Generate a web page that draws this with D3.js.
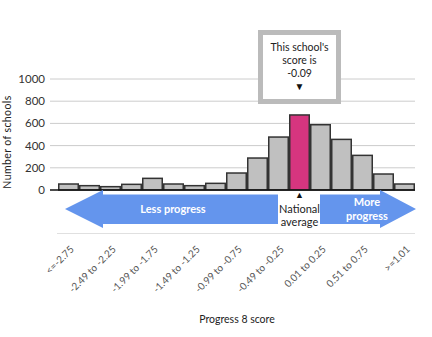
<!DOCTYPE html>
<html><head><meta charset="utf-8">
<script src="https://cdn.jsdelivr.net/npm/d3@7"></script>
<style>body{margin:0;background:#fff}svg{display:block;font-family:Lato,"Open Sans",sans-serif}</style>
</head><body><svg id="c" width="432" height="337"></svg>
<script>
const categories = ["<=-2.75","-2.74 to -2.50","-2.49 to -2.25","-2.24 to -2.00","-1.99 to -1.75","-1.74 to -1.50","-1.49 to -1.25","-1.24 to -1.00","-0.99 to -0.75","-0.74 to -0.50","-0.49 to -0.25","-0.24 to 0.00","0.01 to 0.25","0.26 to 0.50","0.51 to 0.75","0.76 to 1.00",">=1.01"];
const counts = [54,39,30,51,105,54,39,60,153,288,477,676,588,456,312,144,54];
const highlightIndex = 11;
const yTicks = [0,200,400,600,800,1000];
const schoolScore = "-0.09";

const svg = d3.select("#c");
const x = d3.scaleBand().domain(categories).range([58,415]).padding(0);
const y = d3.scaleLinear().domain([0,1000]).range([190,79]);

// gridlines
svg.append("g").selectAll("line").data(yTicks.filter(d=>d>0)).join("line")
  .attr("x1",50).attr("x2",415).attr("y1",d=>y(d)).attr("y2",d=>y(d))
  .attr("stroke","#ccc").attr("stroke-width",1);

// y axis labels
svg.append("g").selectAll("text").data(yTicks).join("text")
  .attr("x",45).attr("y",d=>y(d)).attr("dy","0.35em").attr("text-anchor","end")
  .attr("font-size",11.5).attr("fill","#333").text(d=>d);

svg.append("text").attr("transform","translate(11,142) rotate(-90)")
  .attr("text-anchor","middle").attr("font-size",10.5).attr("fill","#222")
  .attr("letter-spacing",0.4).text("Number of schools");

// bars
svg.append("g").selectAll("rect").data(counts).join("rect")
  .attr("x",(d,i)=>x(categories[i])+0.75).attr("width",x.bandwidth()-1.5)
  .attr("y",d=>y(d)).attr("height",d=>y(0)-y(d))
  .attr("fill",(d,i)=>i===highlightIndex?"#d6357f":"#c0c0c0")
  .attr("stroke","#333").attr("stroke-width",1.5);

// baseline
svg.append("line").attr("x1",50).attr("x2",415).attr("y1",y(0)).attr("y2",y(0))
  .attr("stroke","#111").attr("stroke-width",1.5);

// arrows
const blue = "#6495ed";
svg.append("path").attr("fill",blue)
  .attr("d","M65,209 L103,190 L103,194.5 L278,194.5 L278,224 L103,224 L103,228 Z");
svg.append("path").attr("fill",blue)
  .attr("d","M320,194.5 L380,194.5 L380,190 L416,209 L380,228 L380,224 L320,224 Z");
svg.append("text").attr("x",173).attr("y",213).attr("text-anchor","middle")
  .attr("font-size",11).attr("font-weight","bold").attr("fill","#fff").text("Less progress");
svg.append("text").attr("x",367).attr("y",206).attr("text-anchor","middle")
  .attr("font-size",11).attr("font-weight","bold").attr("fill","#fff").text("More");
svg.append("text").attr("x",367).attr("y",219.5).attr("text-anchor","middle")
  .attr("font-size",11).attr("font-weight","bold").attr("fill","#fff").text("progress");

// national average
const cx = x(categories[highlightIndex]) + x.bandwidth()/2;
svg.append("text").attr("x",cx).attr("y",198).attr("text-anchor","middle").attr("font-size",9).attr("fill","#111").text("▲");
svg.append("text").attr("x",cx).attr("y",213).attr("text-anchor","middle").attr("font-size",11).attr("fill","#222").text("National");
svg.append("text").attr("x",cx).attr("y",226).attr("text-anchor","middle").attr("font-size",11).attr("fill","#222").text("average");

// bottom axis line
svg.append("line").attr("x1",57).attr("x2",415).attr("y1",233.5).attr("y2",233.5).attr("stroke","#e0e0e0");

// x labels (every other)
svg.append("g").selectAll("text").data(categories.filter((d,i)=>i%2===0)).join("text")
  .attr("transform",d=>`translate(${x(d)+x.bandwidth()/2+6},250) rotate(-45)`)
  .attr("text-anchor","end").attr("font-size",10).attr("fill","#555").text(d=>d);

svg.append("text").attr("x",237).attr("y",323).attr("text-anchor","middle")
  .attr("font-size",10.5).attr("fill","#222").text("Progress 8 score");

// tooltip box
svg.append("rect").attr("x",260.5).attr("y",32.5).attr("width",78).attr("height",69)
  .attr("fill","#fff").attr("stroke","#bbb").attr("stroke-width",5);
const tl = ["This school's","score is",schoolScore];
svg.append("g").selectAll("text").data(tl).join("text")
  .attr("x",cx).attr("y",(d,i)=>51+i*13).attr("text-anchor","middle")
  .attr("font-size",10.5).attr("fill","#222").text(d=>d);
svg.append("text").attr("x",cx).attr("y",90).attr("text-anchor","middle").attr("font-size",10).attr("fill","#111").text("▼");
</script></body></html>
